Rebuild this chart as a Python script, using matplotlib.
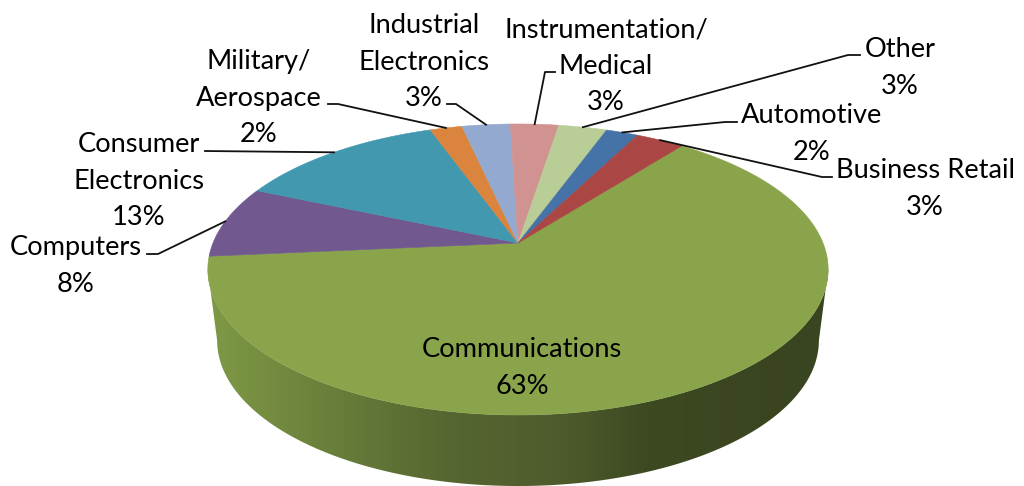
import numpy as np
import matplotlib
matplotlib.use('Agg')
import matplotlib.pyplot as plt
from matplotlib.colors import LinearSegmentedColormap
from matplotlib.patches import Polygon

# Slices in clockwise order, starting from the Communications slice
categories = ['Communications', 'Computers', 'Consumer\nElectronics', 'Military/\nAerospace',
              'Industrial\nElectronics', 'Instrumentation/\nMedical', 'Other', 'Automotive',
              'Business Retail']
values = [63, 8, 13, 2, 3, 3, 3, 2, 3]
colors = ['#8AA44C', '#71588F', '#4198AF', '#DB843D', '#93A9CF',
          '#D19392', '#B9CD96', '#4572A7', '#AA4643']

# Label centres and the elbow of each leader line, in pixels
label_pos = [(522, 368), (76, 266), (139, 181), (259, 98), (424, 62),
             (606, 66), (900, 68), (812, 134), (925, 189)]
leader_start = [None, (147, 254), (205, 151), (328, 104), (447, 104),
                (555, 72), (860, 55), (737, 122), (832, 177)]
leader_elbow = [None, (158, 254), (205, 151), (338, 104), (456, 104),
                (545, 72), (848, 55), (725, 122), (822, 177)]

# Pie geometry (pixels)
cx, cy = 518, 243
rx, ry = 305, 140.7
persp = 0.182
start_angle = 37.9
depth = 71
rim_shrink = 0.97
edge_left, edge_right = 259.5, 100.5  # where the rim is widest


def project(theta_deg, r=1.0):
    # circle point -> screen, near side drawn bigger
    t = np.radians(theta_deg)
    u = r * np.sin(t)
    v = r * np.cos(t)
    s = 1 / (1 + persp * v)
    return cx + rx * u * s, cy - ry * v * s


plt.rcParams['font.family'] = ['Lato', 'DejaVu Sans']
fig = plt.figure(figsize=(10.24, 4.86), dpi=100)
ax = fig.add_axes([0, 0, 1, 1])

angles = start_angle + np.concatenate([[0], np.cumsum(values)]) * 360 / sum(values)

# Side wall of the first slice, with the dark-to-the-right shading
th = np.linspace(max(angles[0], edge_right), min(angles[1], edge_left), 300)
x_top, y_top = project(th)
x_low = cx + (x_top - cx) * rim_shrink
y_low = y_top + depth
side = Polygon(np.r_[np.c_[x_top, y_top], np.c_[x_low, y_low][::-1]], closed=True,
               facecolor='none', edgecolor='none')
ax.add_patch(side)
cmap = LinearSegmentedColormap.from_list('side', [(0, '#7F9A46'), (0.23, '#657B39'),
                                                  (0.39, '#566630'), (0.57, '#4E5C2D'),
                                                  (0.71, '#3D4921'), (1, '#394420')])
grad = ax.imshow(np.linspace(0, 1, 256).reshape(1, -1), cmap=cmap, aspect='auto',
                 extent=(205, 830, 490, 100), zorder=1)
grad.set_clip_path(side)

# Top surface
for i, c in enumerate(colors):
    th = np.linspace(angles[i], angles[i + 1], 200)
    x, y = project(th)
    pts = np.r_[[[cx, cy]], np.c_[x, y]]
    ax.add_patch(Polygon(pts, closed=True, facecolor=c, edgecolor=c, linewidth=0.4, zorder=2))

# Leader lines end on the rim, at the middle of the slice
for i in range(1, len(values)):
    mx, my = project((angles[i] + angles[i + 1]) / 2)
    sx, sy = leader_start[i]
    ex, ey = leader_elbow[i]
    ax.plot([sx, ex, mx], [sy, ey, my], color='#111111', lw=1.3, zorder=3,
            solid_joinstyle='round')

for name, val, pos in zip(categories, values, label_pos):
    ax.text(pos[0], pos[1], f'{name}\n{val}%', ha='center', va='center', fontsize=19.6,
            color='black', linespacing=1.56, zorder=4)

ax.set_xlim(0, 1024)
ax.set_ylim(486, 0)
ax.axis('off')

fig.savefig('out.png', dpi=100, facecolor='white')
